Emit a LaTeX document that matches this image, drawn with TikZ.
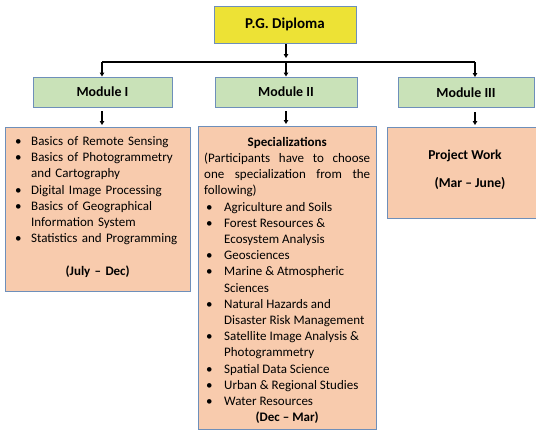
\documentclass[tikz,border=0pt]{standalone}
\usepackage{fontspec}
\setmainfont{Carlito}
\usetikzlibrary{arrows.meta}
\definecolor{pgyellow}{HTML}{EDE235}
\definecolor{modgreen}{HTML}{C9E2B8}
\definecolor{boxsalmon}{HTML}{F8CBAD}
\definecolor{bordblue}{HTML}{6E8FBA}
\newcommand{\bitem}[2]{\par\noindent\hangindent=#1\hangafter=1\makebox[#1][l]{\hspace{2pt}\textbullet}#2}
\begin{document}
\begin{tikzpicture}[x=1pt,y=-1pt,
  hdr/.style={draw=bordblue,line width=1pt,font=\bfseries\fontsize{13.9}{16}\selectfont,inner sep=0pt,align=center},
  pgbox/.style={hdr,fill=pgyellow,minimum width=142pt,minimum height=37pt,font=\bfseries\fontsize{15}{17}\selectfont},
  modbox/.style={hdr,fill=modgreen,minimum height=30pt},
  contbox/.style={draw=bordblue,line width=1pt,fill=boxsalmon},
  conttext/.style={font=\fontsize{13}{16.2}\selectfont,inner sep=0pt,anchor=north west},
  arr/.style={-{Triangle[length=4pt,width=4.5pt]},line width=1.3pt},
  link/.style={line width=1.3pt}]
\useasboundingbox (0,0) rectangle (536,431);
\begin{scope}
\clip (0,0) rectangle (536,431);
% top
\node[pgbox] (pg) at (285,24.5) {P.G. Diploma};
\node[modbox,minimum width=139pt] (m1) at (102.5,92) {Module I};
\node[modbox,minimum width=142pt] (m2) at (286,92) {Module II};
\node[modbox,minimum width=136pt] (m3) at (466,92.5) {Module III};
% content boxes
\node[contbox,minimum width=185pt,minimum height=164pt,anchor=north west,inner sep=0pt] (b1) at (5,127) {};
\node[contbox,minimum width=178pt,minimum height=303pt,anchor=north west,inner sep=0pt] (b2) at (198,126) {};
\node[contbox,minimum width=160pt,minimum height=91pt,anchor=north west,inner sep=0pt] (b3) at (387,127) {};
% connectors
\coordinate (pgend) at (286,58);
\coordinate (jl) at (102,62);
\coordinate (jm) at (286,62);
\coordinate (jr) at (475,62);
\draw[arr] (286,44) -- (pgend);
\draw[link] (jl) -- (jr);
\draw[arr] (jl) -- (jl |- m1.north);
\draw[arr] (jm) -- (jm |- m2.north);
\draw[arr] (jr) -- (jr |- m3.north);
\draw[arr] (102,111) -- (102,125);
\draw[arr] (286,111) -- (286,124);
\draw[arr] (475,112) -- (475,125);
% texts
\node[conttext,text width=170pt] (t1) at (13,129) {\raggedright
\bitem{18pt}{Basics of Remote Sensing}
\bitem{18pt}{Basics of Photogrammetry and Cartography}
\bitem{18pt}{Digital Image Processing}
\bitem{18pt}{Basics of Geographical Information System}
\bitem{18pt}{Statistics and Programming}
\par\vspace{16.2pt}\noindent\hspace*{-8pt}\makebox[185pt][c]{\bfseries(July -- Dec)}\par};
\node[conttext,text width=166pt,align=justify] (t2) at (204,137) {\hyphenpenalty=10000
\noindent\makebox[166pt][c]{\bfseries Specializations}\par
\noindent (Participants have to choose one specialization from the \mbox{following)}\par
{\raggedright
\bitem{20pt}{Agriculture and Soils}
\bitem{20pt}{Forest Resources \& Ecosystem Analysis}
\bitem{20pt}{Geosciences}
\bitem{20pt}{Marine \& Atmospheric Sciences}
\bitem{20pt}{Natural Hazards and Disaster Risk Management}
\bitem{20pt}{Satellite Image Analysis \& Photogrammetry}
\bitem{20pt}{Spatial Data Science}
\bitem{20pt}{Urban \& Regional Studies}
\bitem{20pt}{Water Resources}\par}
\noindent\makebox[166pt][c]{\bfseries(Dec -- Mar)}\par};
\node[font=\bfseries\fontsize{13.6}{15}\selectfont,inner sep=0pt] (t3a) at (465,156) {Project Work};
\node[font=\bfseries\fontsize{13.6}{15}\selectfont,inner sep=0pt] (t3b) at (470,183) {(Mar -- June)};
\end{scope}
\end{tikzpicture}
\end{document}
